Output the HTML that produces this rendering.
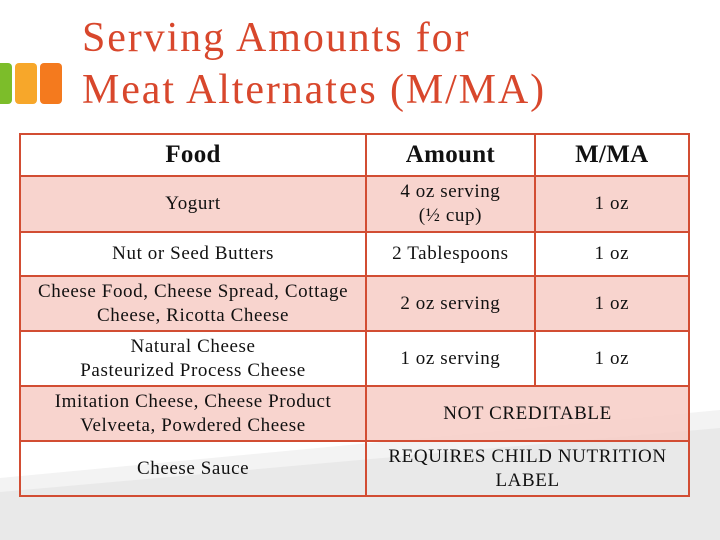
<!DOCTYPE html>
<html><head><meta charset="utf-8"><style>
body{margin:0;width:720px;height:540px;position:relative;overflow:hidden;background:#fff;font-family:"Liberation Serif",serif}
.bg{position:absolute;left:0;top:0}
.title{position:absolute;left:82px;top:12px;color:#d8472c;font-size:42px;line-height:52px;letter-spacing:1.9px}
.blk{position:absolute;top:63px;height:41px;border-radius:4px}
table{position:absolute;left:19px;top:133px;width:671px;border-collapse:collapse;font-size:19px;letter-spacing:0.6px;color:#111}
td{border:2px solid #d24d33;text-align:center;line-height:24px;padding:0;white-space:nowrap}
tr.h td{font-size:25px;font-weight:bold;height:40px;letter-spacing:0.3px}
tr.p td{background:rgba(247,205,198,0.85)}
</style></head><body>
<svg class="bg" width="720" height="540">
<polygon points="0,478 720,410 720,540 0,540" fill="#f3f3f3"/>
<polygon points="0,492 720,428 720,540 0,540" fill="#e9e9e9"/>
</svg>
<div class="blk" style="left:-4px;width:16px;background:#7cbd2a"></div>
<div class="blk" style="left:15px;width:22px;background:#f7a72a"></div>
<div class="blk" style="left:40px;width:22px;background:#f47a1e"></div>
<div class="title">Serving Amounts for<br>Meat Alternates (M/MA)</div>
<table>
<colgroup><col style="width:347px"><col style="width:169px"><col style="width:155px"></colgroup>
<tr class="h"><td>Food</td><td>Amount</td><td>M/MA</td></tr>
<tr class="p" style="height:56px"><td>Yogurt</td><td>4 oz serving<br>(½ cup)</td><td>1 oz</td></tr>
<tr style="height:44px"><td>Nut or Seed Butters</td><td>2 Tablespoons</td><td>1 oz</td></tr>
<tr class="p" style="height:55px"><td>Cheese Food, Cheese Spread, Cottage<br>Cheese, Ricotta Cheese</td><td>2 oz serving</td><td>1 oz</td></tr>
<tr style="height:55px"><td>Natural Cheese<br>Pasteurized Process Cheese</td><td>1 oz serving</td><td>1 oz</td></tr>
<tr class="p" style="height:55px"><td>Imitation Cheese, Cheese Product<br>Velveeta, Powdered Cheese</td><td colspan="2">NOT CREDITABLE</td></tr>
<tr style="height:55px"><td>Cheese Sauce</td><td colspan="2">REQUIRES CHILD NUTRITION<br>LABEL</td></tr>
</table>
</body></html>
